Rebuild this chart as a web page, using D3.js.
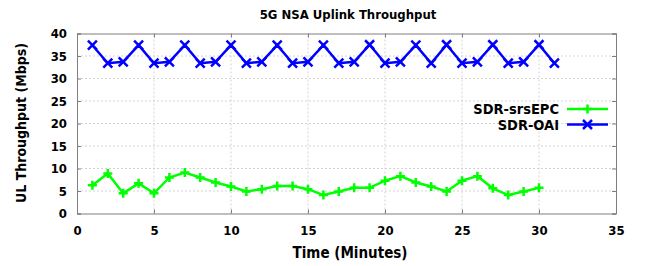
<!DOCTYPE html>
<html><head><meta charset="utf-8">
<script src="https://cdn.jsdelivr.net/npm/d3@7"></script>
<style>
body{margin:0;background:#fff;}
text{font-family:"DejaVu Sans Condensed","DejaVu Sans",sans-serif;font-weight:bold;fill:#000;}
</style></head><body>
<svg id="c" width="650" height="266"></svg>
<script>
const minutesSrs = d3.range(1, 31);
const srsEPC = [6.3,8.9,4.5,6.7,4.5,8.0,9.1,8.0,6.9,6.0,4.9,5.4,6.1,6.1,5.4,4.1,4.9,5.7,5.7,7.3,8.3,6.9,6.0,4.9,7.3,8.3,5.6,4.1,4.9,5.7];
const minutesOai = d3.range(1, 32);
const oai = [37.4,33.4,33.7,37.4,33.4,33.7,37.4,33.4,33.7,37.4,33.4,33.7,37.4,33.4,33.7,37.4,33.4,33.7,37.5,33.4,33.7,37.4,33.4,37.5,33.4,33.7,37.5,33.4,33.7,37.5,33.4];
const xTicks = [0,5,10,15,20,25,30,35];
const yTicks = [0,5,10,15,20,25,30,35,40];
const seriesNames = ["SDR-srsEPC","SDR-OAI"];
const seriesColors = ["#00ff00","#0000ff"];

const svg = d3.select("#c");
const x = d3.scaleLinear().domain([0,35]).range([77,616]);
const y = d3.scaleLinear().domain([0,40]).range([213.5,33.5]);

// grid
const g = svg.append("g");
g.selectAll(".gx").data(xTicks.slice(1,-1)).join("line")
  .attr("x1",d=>x(d)).attr("x2",d=>x(d)).attr("y1",y(0)).attr("y2",y(40))
  .attr("stroke","#c8c8c8").attr("stroke-width",0.8).attr("stroke-dasharray","2,2");
g.selectAll(".gy").data(yTicks.slice(1,-1)).join("line")
  .attr("x1",x(0)).attr("x2",x(35)).attr("y1",d=>y(d)).attr("y2",d=>y(d))
  .attr("stroke","#c8c8c8").attr("stroke-width",0.8).attr("stroke-dasharray","2,2");

// axes
const xAxis = d3.axisBottom(x).tickValues(xTicks).tickSize(-4).tickPadding(12);
const yAxis = d3.axisLeft(y).tickValues(yTicks).tickSize(-4).tickPadding(10);
const ax = svg.append("g").attr("transform",`translate(0,${y(0)})`).call(xAxis);
const ay = svg.append("g").attr("transform",`translate(${x(0)},0)`).call(yAxis);
const axT = svg.append("g").attr("transform",`translate(0,${y(40)})`).call(d3.axisTop(x).tickValues(xTicks).tickSize(-4).tickFormat(""));
const ayR = svg.append("g").attr("transform",`translate(${x(35)},0)`).call(d3.axisRight(y).tickValues(yTicks).tickSize(-4).tickFormat(""));
[ax,ay,axT,ayR].forEach(a=>{
  a.select(".domain").attr("stroke","#7f7f7f").attr("stroke-width",1);
  a.selectAll(".tick line").attr("stroke","#7f7f7f");
  a.selectAll(".tick text").style("font-size","13px").style("font-family",'"DejaVu Sans Condensed","DejaVu Sans",sans-serif').style("font-weight","bold").attr("fill","#000");
});

// lines
const lineGen = d3.line().x(d=>x(d[0])).y(d=>y(d[1]));
const dSrs = minutesSrs.map((m,i)=>[m,srsEPC[i]]);
const dOai = minutesOai.map((m,i)=>[m,oai[i]]);
const plus = (s,cx,cy,r)=>s.append("path").attr("d",`M${cx-r},${cy}H${cx+r}M${cx},${cy-r}V${cy+r}`);
const cross = (s,cx,cy,r)=>s.append("path").attr("d",`M${cx-r},${cy-r}L${cx+r},${cy+r}M${cx-r},${cy+r}L${cx+r},${cy-r}`);

function drawSeries(data,color,marker){
  const gs = svg.append("g").attr("stroke",color).attr("fill","none").attr("stroke-width",2.5);
  gs.append("path").attr("d",lineGen(data));
  data.forEach(d=>marker(gs,x(d[0]),y(d[1]),4.5));
}
drawSeries(dOai,seriesColors[1],cross);
drawSeries(dSrs,seriesColors[0],plus);

// legend
const legY = [109,124.5];
const markers = [plus,cross];
seriesNames.forEach((n,i)=>{
  svg.append("text").attr("x",559).attr("y",legY[i]).attr("dy","0.36em").attr("text-anchor","end")
    .style("font-size","14.5px").text(n);
  const lg = svg.append("g").attr("stroke",seriesColors[i]).attr("stroke-width",2.5).attr("fill","none");
  lg.append("line").attr("x1",567).attr("x2",608).attr("y1",legY[i]).attr("y2",legY[i]);
  markers[i](lg,587.5,legY[i],4.5);
});

// titles
svg.append("text").attr("x",348).attr("y",14).attr("dy","0.36em").attr("text-anchor","middle").style("font-size","13px").text("5G NSA Uplink Throughput");
svg.append("text").attr("x",350).attr("y",253).attr("dy","0.36em").attr("text-anchor","middle").style("font-size","15px").text("Time (Minutes)");
svg.append("text").attr("transform","translate(21,123) rotate(-90)").attr("dy","0.36em").attr("text-anchor","middle").style("font-size","14px").text("UL Throughput (Mbps)");
</script></body></html>
